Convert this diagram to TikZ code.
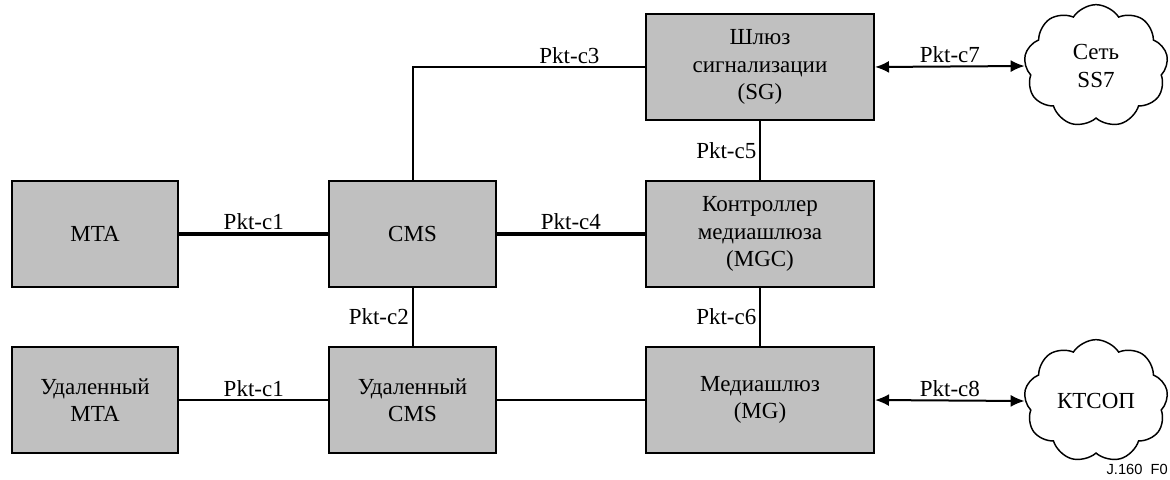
\documentclass[tikz,border=0pt]{standalone}
\usepackage{fontspec}
\setmainfont{LiberationSerif-Regular.ttf}
\newfontfamily\figfont{Liberation Sans}
\usetikzlibrary{shapes.symbols,arrows.meta}
\definecolor{boxgray}{RGB}{192,192,192}
\begin{document}
\begin{tikzpicture}[x=0.75pt,y=-0.75pt, font=\rmfamily\fontsize{17.25}{20.5}\selectfont]
	\tikzset{
		mynode/.style={rectangle, draw=black, fill=boxgray, line width=1.5pt, align=center, minimum width=125pt, minimum height=79.5pt, inner sep=0pt},
		mynodew/.style={mynode, minimum width=171pt},
		mycloud/.style={cloud, cloud puffs=9, cloud puff arc=115, aspect=1.15, draw=black, line width=1.1pt, align=center, minimum width=108pt, minimum height=92pt, inner sep=0pt},
		myline/.style={line width=1.5pt},
		mythick/.style={line width=3pt},
		myarrow/.style={{Latex[length=10.5pt,width=9pt]}-{Latex[length=10.5pt,width=9pt]}, line width=1.5pt},
		mylabel/.style={inner sep=2pt}
	}
	\useasboundingbox (0,0) rectangle (1170,479);

	\node[mynode] (mta) at (95,234) {MTA};
	\node[mynode] (cms) at (412.5,234) {CMS};
	\node[mynode] (rmta) at (95,400) {Удаленный\\MTA};
	\node[mynode] (rcms) at (412.5,400) {Удаленный\\CMS};
	\node[mynodew] (sg) at (760,67) {Шлюз\\сигнализации\\(SG)};
	\node[mynodew] (mgc) at (760,234) {Контроллер\\медиашлюза\\(MGC)};
	\node[mynodew] (mg) at (760,400) {Медиашлюз\\(MG)};

	\node[mycloud] (ss7) at (1096,66) {Сеть\\SS7};
	\node[mycloud] (pstn) at (1096,401) {КТСОП};

	\draw[mythick] (mta) -- node[mylabel, above] {Pkt-c1} (cms);
	\draw[mythick] (cms) -- node[mylabel, above] {Pkt-c4} (mgc);
	\draw[myline] (cms.north) -- (cms.north |- sg.west) -- node[mylabel, above, pos=0.675] {Pkt-c3} (sg.west);
	\draw[myline] (cms) -- node[mylabel, left] {Pkt-c2} (rcms);
	\draw[myline] (rmta) -- node[mylabel, above] {Pkt-c1} (rcms);
	\draw[myline] (rcms) -- (mg);
	\draw[myline] (sg) -- node[mylabel, left] {Pkt-c5} (mgc);
	\draw[myline] (mgc) -- node[mylabel, left] {Pkt-c6} (mg);
	\draw[myarrow] (sg.east) -- node[mylabel, above] {Pkt-c7} (ss7.west);
	\draw[myarrow] (mg.east) -- node[mylabel, above] {Pkt-c8} (pstn.west);

	\node[anchor=base east, inner sep=0pt, font=\figfont\fontsize{11}{13}\selectfont] (fig) at (1168,474) {J.160\ \ F0};
\end{tikzpicture}
\end{document}
